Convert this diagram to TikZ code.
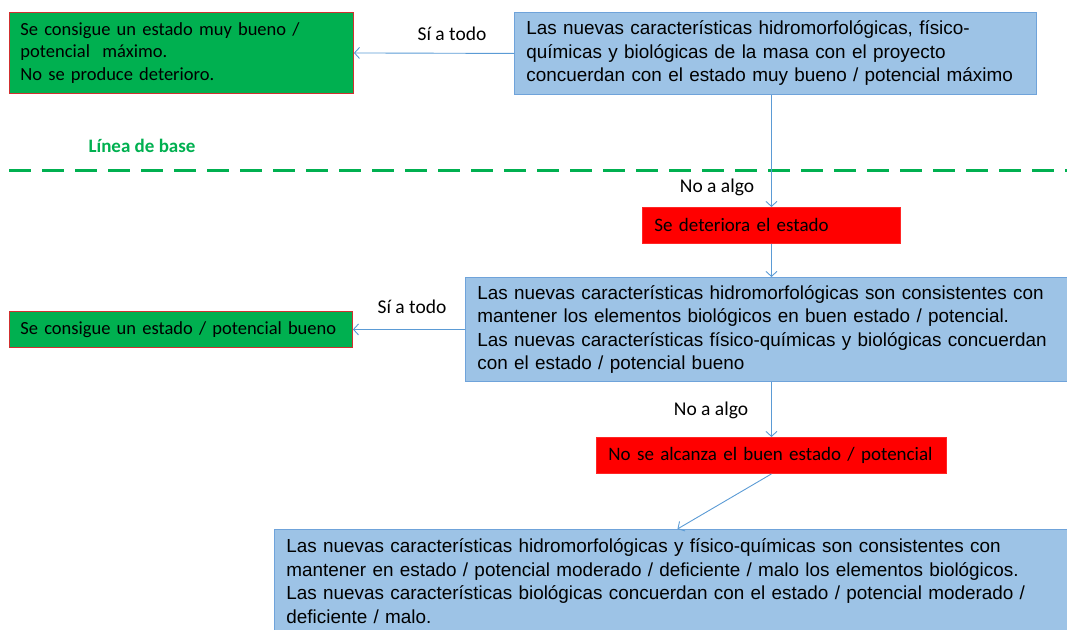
\documentclass[tikz,border=0pt]{standalone}
\usepackage{fontspec}
\setmainfont{Carlito}
\newfontfamily\arialfont{Liberation Sans}
\usetikzlibrary{arrows.meta}
\definecolor{fill_green}{HTML}{00B050}
\definecolor{fill_red}{HTML}{FF0000}
\definecolor{fill_blue}{HTML}{9DC3E6}
\definecolor{edge_blue}{HTML}{6FA3DA}
\definecolor{edge_red}{HTML}{D03030}
\definecolor{arrow_col}{HTML}{5B9BD5}

\begin{document}
\begin{tikzpicture}[x=1pt, y=-1pt, font=\fontsize{19.5}{23}\selectfont]
    \tikzstyle{box_blue} = [draw=edge_blue, line width=0.9, fill=fill_blue, anchor=north west, inner xsep=12, inner ysep=0, align=left, font=\arialfont\fontsize{18.9}{23.5}\selectfont]
    \tikzstyle{box_green} = [draw=edge_red, line width=0.9, fill=fill_green, anchor=north west, inner xsep=11, inner ysep=0, align=left, font=\fontsize{18.5}{22.5}\selectfont]
    \tikzstyle{box_red} = [draw=fill_red!85!white, line width=0.9, fill=fill_red, anchor=north west, inner xsep=12, inner ysep=0, align=left, font=\fontsize{19}{22.5}\selectfont]
    \tikzstyle{arrow_blue} = [->, arrow_col, line width=0.9, >={Straight Barb[length=5, width=11]}]

    \clip (0,0) rectangle (1067,629);

    % top: muy bueno / maximo
    \node[box_green, text width=322, minimum height=81] (g1) at (9,12)
        {Se consigue un estado muy bueno /\\potencial\ \ máximo.\\No se produce deterioro.};
    \node[box_blue, text width=498, minimum height=82] (b1) at (514,12)
        {Las nuevas características hidromorfológicas, físico-\\químicas y biológicas de la masa con el proyecto\\concuerdan con el estado muy bueno / potencial máximo};

    \draw[arrow_blue] (b1.west) -- (g1.east);
    \node[draw=none] (l_si1) at (452,34) {Sí a todo};

    % ---------------------------------------

    \node[draw=none, font={\fontsize{19}{20}\selectfont\bfseries}, text=fill_green] (l_base) at (142,146) {Línea de base};
    \coordinate (base_a) at (9,170);
    \coordinate (base_b) at (1067,170);
    \draw[fill_green, line width=3, dash pattern=on 22 off 11] (base_a) -- (base_b);

    % ---------------------------------------

    \node[box_red, text width=234, minimum height=36] (r1) at (642,207) {Se deteriora el estado};
    \draw[arrow_blue] (r1.north |- b1.south) -- (r1.north);
    \node[draw=none] (l_no1) at (717,187) {No a algo};

    \node[box_blue, text width=588, minimum height=104] (b2) at (465,277)
        {Las nuevas características hidromorfológicas son consistentes con\\mantener los elementos biológicos en buen estado / potencial.\\Las nuevas características físico-químicas y biológicas concuerdan\\con el estado / potencial bueno};
    \draw[arrow_blue] (r1.south) -- (r1.south |- b2.north);

    \node[box_green, text width=321, minimum height=36] (g2) at (9,311) {Se consigue un estado / potencial bueno};
    \draw[arrow_blue] (b2.west) -- (g2.east);
    \node[draw=none] (l_si2) at (412,307) {Sí a todo};

    % ---------------------------------------

    \node[box_red, text width=326, minimum height=36] (r2) at (596,437) {No se alcanza el buen estado / potencial};
    \draw[arrow_blue] (r2.north |- b2.south) -- (r2.north);
    \node[draw=none] (l_no2) at (711,410) {No a algo};

    \node[box_blue, text width=782, minimum height=103] (b3) at (274,529)
        {Las nuevas características hidromorfológicas y físico-químicas son consistentes con\\mantener en estado / potencial moderado / deficiente / malo los elementos biológicos.\\Las nuevas características biológicas concuerdan con el estado / potencial moderado /\\deficiente / malo.};
    \draw[arrow_blue] (r2.south) -- (b3.north);

\end{tikzpicture}
\end{document}
